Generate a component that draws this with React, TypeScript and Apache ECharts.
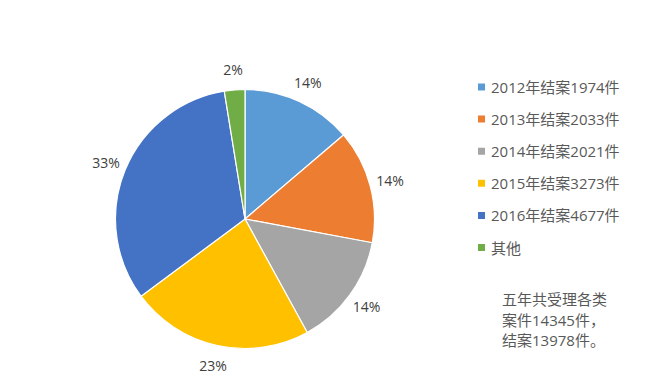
import React, { useEffect, useRef } from "react";
import * as echarts from "echarts";

const categories = ["2012年结案1974件", "2013年结案2033件", "2014年结案2021件", "2015年结案3273件", "2016年结案4677件", "其他"];
const values = [1974, 2033, 2021, 3273, 4677, 367];
const colors = ["#5B9BD5", "#ED7D31", "#A5A5A5", "#FFC000", "#4472C4", "#70AD47"];
const noteLines = ["五年共受理各类", "案件14345件，", "结案13978件。"];

const FONT = '"Open Sans", "Noto Sans CJK SC", sans-serif';

export default function App() {
  const ref = useRef<HTMLDivElement>(null);
  useEffect(() => {
    if (!ref.current) return;
    const chart = echarts.init(ref.current, undefined, { renderer: "svg" });
    const data = categories.map((c, i) => ({ name: c, value: values[i] }));
    chart.setOption({
      animation: false,
      backgroundColor: "#ffffff",
      color: colors,
      legend: {
        orient: "vertical",
        left: 471,
        top: 74,
        icon: "rect",
        itemWidth: 9,
        itemHeight: 9,
        itemGap: 16.1,
        textStyle: { fontFamily: FONT, fontSize: 15, color: "#595959", lineHeight: 16 },
        data: categories,
      },
      graphic: [
        {
          type: "text",
          left: 502,
          top: 289,
          style: {
            text: noteLines.join("\n"),
            fontFamily: FONT,
            fontSize: 15,
            lineHeight: 20.5,
            fill: "#595959",
          },
        },
      ],
      series: [
        {
          type: "pie",
          center: [245, 219],
          radius: 129.5,
          startAngle: 90,
          clockwise: true,
          itemStyle: { borderColor: "#ffffff", borderWidth: 1.2 },
          label: { show: false },
          labelLine: { show: false },
          emphasis: { disabled: true },
          data,
        },
        {
          type: "pie",
          center: [245, 219],
          radius: [138, 156],
          startAngle: 90,
          clockwise: true,
          silent: true,
          percentPrecision: 0,
          itemStyle: { color: "rgba(0,0,0,0)", borderWidth: 0 },
          label: {
            show: true,
            position: "inside",
            formatter: "{d}%",
            fontFamily: FONT,
            fontSize: 14,
            color: "#404040",
          },
          labelLine: { show: false },
          emphasis: { disabled: true },
          data,
        },
      ],
    });
    return () => chart.dispose();
  }, []);
  return <div ref={ref} style={{ position: "fixed", left: 0, top: 0, width: 650, height: 374 }} />;
}
